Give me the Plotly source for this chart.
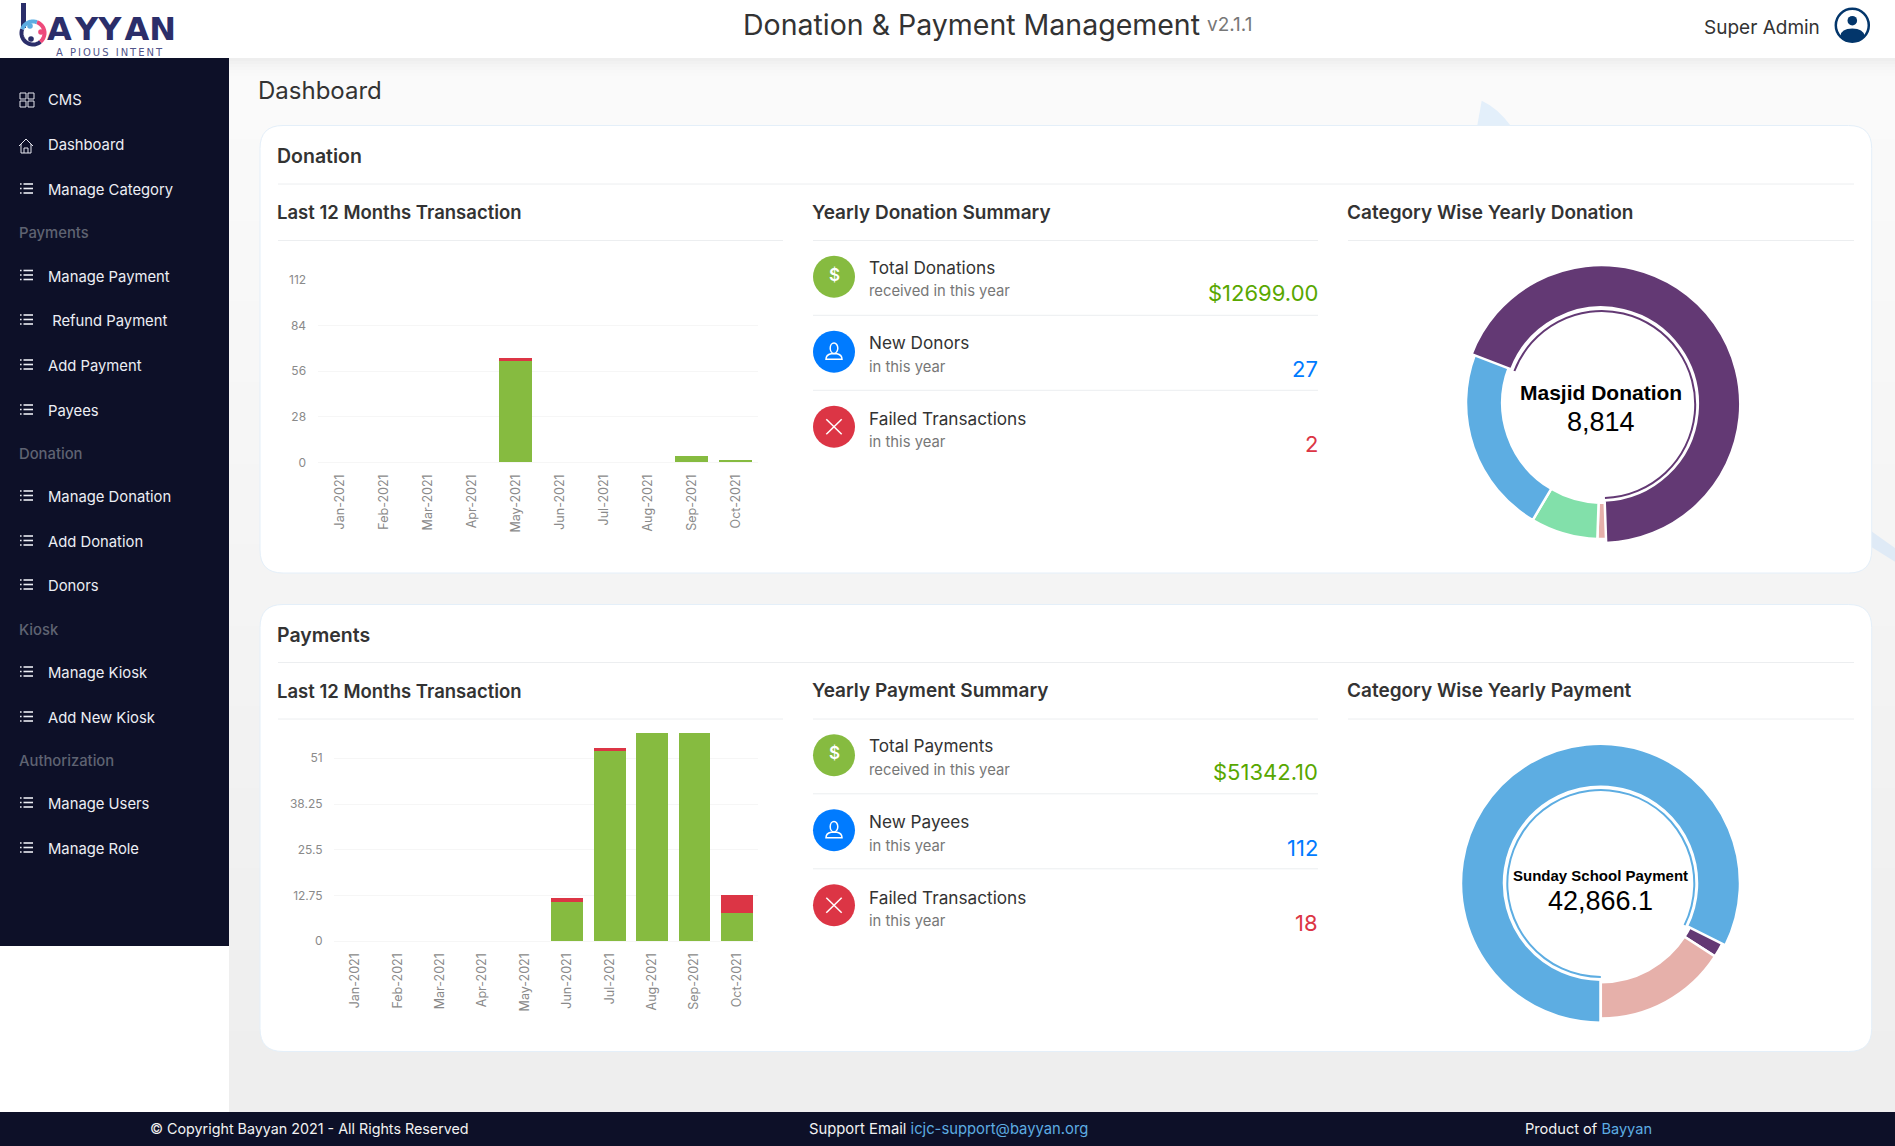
import math
import plotly.graph_objects as go

# ---------- data ----------
months = ["Jan-2021","Feb-2021","Mar-2021","Apr-2021","May-2021","Jun-2021","Jul-2021","Aug-2021","Sep-2021","Oct-2021"]
donation_success = [0,0,0,0,62,0,0,0,4,1.4]
donation_failed  = [0,0,0,0,2.3,0,0,0,0,0]
donation_ticks = [0,28,56,84,112]
payment_success = [0,0,0,0,0,11,53,59,59,8]
payment_failed  = [0,0,0,0,0,1,1,0,0,5]
payment_ticks = [0,12.75,25.5,38.25,51]
payment_tick_text = ["0","12.75","25.5","38.25","51"]

donation_labels = ["Masjid Donation","Category B","Category C","Category D"]
donation_values = [8814,141,1023,2868]
payment_labels = ["Sunday School Payment","Category B","Category C"]
payment_values = [42866.1,941,8254]

nav_items = [("CMS",101,"grid"),("Dashboard",146,"home"),("Manage Category",191,"list"),
             ("Payments",234,None),("Manage Payment",277.5,"list"),(" Refund Payment",322,"list"),
             ("Add Payment",367,"list"),("Payees",412,"list"),("Donation",455,None),
             ("Manage Donation",498,"list"),("Add Donation",543,"list"),("Donors",587,"list"),
             ("Kiosk",631,None),("Manage Kiosk",674,"list"),("Add New Kiosk",719,"list"),
             ("Authorization",762,None),("Manage Users",805,"list"),("Manage Role",850,"list")]

donation_rows = [("Total Donations","received in this year","$12699.00"),("New Donors","in this year","27"),("Failed Transactions","in this year","2")]
payment_rows = [("Total Payments","received in this year","$51342.10"),("New Payees","in this year","112"),("Failed Transactions","in this year","18")]

# ---------- style ----------
W, H = 1895, 1146
FONT = "Inter"
NAVY = "#0d1028"
GREEN = "#86bb40"
RED = "#dc3545"
BLUE = "#007bff"
PURPLE = "#633974"
SKY = "#5dade2"
MINT = "#82e0aa"
ROSE = "#e6b0aa"
INK = "#333333"
shapes, annos = [], []

def rect(x0,y0,x1,y1,fill,line=None,lw=0):
    shapes.append(dict(type="rect",xref="x",yref="y",x0=x0,y0=y0,x1=x1,y1=y1,fillcolor=fill,
                       line=dict(color=line or fill,width=lw),layer="below"))
def hline(x0,x1,y,color="#eceef0",lw=1):
    shapes.append(dict(type="line",xref="x",yref="y",x0=x0,x1=x1,y0=y,y1=y,line=dict(color=color,width=lw),layer="below"))
def seg(x0,y0,x1,y1,color="#ffffff",lw=1.5):
    shapes.append(dict(type="line",xref="x",yref="y",x0=x0,x1=x1,y0=y0,y1=y1,line=dict(color=color,width=lw),layer="below"))
def path(d,fill="rgba(0,0,0,0)",line="rgba(0,0,0,0)",lw=0):
    shapes.append(dict(type="path",xref="x",yref="y",path=d,fillcolor=fill,line=dict(color=line,width=lw),layer="below"))
def circle(cx,cy,r,fill="rgba(0,0,0,0)",line="rgba(0,0,0,0)",lw=0,ry=None):
    ry = ry or r
    shapes.append(dict(type="circle",xref="x",yref="y",x0=cx-r,x1=cx+r,y0=cy-ry,y1=cy+ry,fillcolor=fill,line=dict(color=line,width=lw),layer="below"))
def arc(cx,cy,r,a0,a1,color,lw):
    n=24
    pts=[(cx+r*math.cos(math.radians(a0+(a1-a0)*i/n)),cy+r*math.sin(math.radians(a0+(a1-a0)*i/n))) for i in range(n+1)]
    path("M"+" L".join(f"{x:.1f} {y:.1f}" for x,y in pts),line=color,lw=lw)
def rrect(x0,y0,x1,y1,r,fill,line):
    d=(f"M{x0+r} {y0} L{x1-r} {y0} Q{x1} {y0} {x1} {y0+r} L{x1} {y1-r} Q{x1} {y1} {x1-r} {y1} "
       f"L{x0+r} {y1} Q{x0} {y1} {x0} {y1-r} L{x0} {y0+r} Q{x0} {y0} {x0+r} {y0} Z")
    path(d,fill=fill,line=line,lw=1)
def txt(x,y,s,size,color=INK,anchor="left",weight=400,family=FONT):
    shift={"left":-3,"right":1.5,"center":0}[anchor]
    annos.append(dict(xref="x",yref="y",x=x+shift,y=y-0.8,text=s,showarrow=False,xanchor=anchor,yanchor="middle",
                      align=anchor,font=dict(family=family,size=size,color=color,weight=weight)))

# ---------- page ----------
rect(0,0,W,H,"#ffffff")
top,bot=58,1112
N=26
for i in range(N):
    v=round(250-(250-238)*i/(N-1))
    rect(229,top+(bot-top)*i/N,W,top+(bot-top)*(i+1)/N+1,f"rgb({v},{v},{v})")
for i,v in enumerate([238,241,244,246,248,249]):
    rect(229,58+i*3,W,58+(i+1)*3,f"rgb({v},{v},{v})")
rect(0,58,229,946,NAVY)
rect(0,1112,W,H,NAVY)
# decorative shapes peeking behind the cards
path("M1481.7 100.7 Q1498 108 1511.7 127 L1477 127 Z",fill="#e3effa")
path("M1871 531 L1895 548 L1895 561.7 L1871 546.7 Z",fill="#dfeaf6")
rrect(260,125.5,1871.7,573,23,"#ffffff","#e4eff9")
rrect(260,604.5,1871.7,1051.5,23,"#ffffff","#e4eff9")

# ---------- header ----------
txt(971,25,"Donation &amp; Payment Management",28.5,INK,"center")
txt(1208,25,"v2.1.1",19,"#777777")
txt(1705,28,"Super Admin",19,INK)
txt(259,91,"Dashboard",24,INK)
circle(1852.3,25.3,16.5,line="#03366b",lw=2.5)
circle(1852.3,20.7,4.8,fill="#03366b")
path("M1840.5 36 Q1841 28.5 1852.3 28.5 Q1863.5 28.5 1864.5 36 Q1859 41.3 1852.3 41.3 Q1845 41.3 1840.5 36 Z",fill="#03366b")
# logo
LOGO="#2b2e6a"
rect(21,3,26,28,LOGO)
arc(33,33,11.5,50,200,LOGO,4)
arc(33,33,11.5,-70,50,"#ee4a7b",4)
arc(33,33,11.5,200,290,SKY,4)
circle(30,26,2.8,fill=SKY)
circle(41,32,2.8,fill="#ee4a7b")
circle(31,39,2.8,fill=LOGO)
txt(48,29.5,"A\u200aYY\u200aAN",32,LOGO,weight=700,family="DejaVu Sans")
txt(57,53,"A\u2009 \u2009P\u2009I\u2009O\u2009U\u2009S\u2009 \u2009I\u2009N\u2009T\u2009E\u2009N\u2009T",10,"#50548a",family="DejaVu Sans")

# ---------- sidebar ----------
for label,y,icon in nav_items:
    if icon is None:
        txt(20,y,label,14.8,"#5f6372",weight=500)
        continue
    txt(49,y,label,14.8,"#eceef4")
    if icon=="grid":
        for dx in (0,8):
            for dy in (0,8):
                rect(20+dx,y-8+dy,26+dx,y-2+dy,"rgba(0,0,0,0)","#e6e6ee",1)
    elif icon=="home":
        path(f"M19 {y} L26 {y-7} L33 {y} M21 {y-2} L21 {y+7} L31 {y+7} L31 {y-2} M24 {y+7} L24 {y+2} L28 {y+2} L28 {y+7}",line="#e6e6ee",lw=1)
    else:
        for dy in (-7,-2.5,2):
            seg(23.5,y+dy,33,y+dy,"#eceef4",1.6)
            seg(20,y+dy,21.6,y+dy,"#eceef4",1.6)

# ---------- card contents ----------
def summary(offset,card,heading3,heading2,rows):
    txt(278,157+offset,card,19.5,INK,weight=600)
    hline(278,1854,184+offset)
    txt(278,213+offset,"Last 12 Months Transaction",18.5,INK,weight=600)
    hline(278,783,240.5+offset)
    txt(813,213+offset,heading2,19,INK,weight=600)
    hline(813,1318,240.5+offset)
    txt(1348,213+offset,heading3,19,INK,weight=600)
    hline(1348,1854,240.5+offset)
    tints=[("#86bb40","#58a700"),(BLUE,BLUE),(RED,RED)]
    ys=[(268,292,294,276.7),(343.3,368,370,351.7),(419.3,443,445,426.7)]
    for i,((a,b,c),(fill,vc),(ya,yb,yc,yi)) in enumerate(zip(rows,tints,ys)):
        circle(834,yi+offset,21,fill=fill)
        txt(870,ya+offset,a,17.2,INK)
        txt(870,yb+offset,b,14.8,"#777777")
        txt(1318,yc+offset,c,22,vc,"right",weight=400)
        cy=yi+offset
        if i==0:
            txt(834,cy-1,"$",17,"#ffffff","center",weight=600)
        elif i==1:
            circle(834,cy-3.5,3.8,line="#ffffff",lw=1.5,ry=5.2)
            path(f"M826 {cy+7.5} Q826 {cy+3} 831 {cy+2} L837 {cy+2} Q842 {cy+3} 842 {cy+7.5} Z",line="#ffffff",lw=1.5)
        else:
            seg(826.3,cy-7.5,841.7,cy+7.5,"#ffffff",1.5)
            seg(826.3,cy+7.5,841.7,cy-7.5,"#ffffff",1.5)
    hline(813,1318,315.3+offset)
    hline(813,1318,390.3+offset)

summary(0,"Donation","Category Wise Yearly Donation","Yearly Donation Summary",donation_rows)
summary(478.5,"Payments","Category Wise Yearly Payment","Yearly Payment Summary",payment_rows)

txt(1600.7,393.3,"Masjid Donation",21,"#000000","center",700,"Liberation Sans")
txt(1600.7,422.3,"8,814",27,"#000000","center",400,"Liberation Sans")
txt(1600.7,876,"Sunday School Payment",15,"#000000","center",700,"Liberation Sans")
txt(1600.7,901.7,"42,866.1",27,"#000000","center",400,"Liberation Sans")

# ---------- footer ----------
LINK="#5dade2"
txt(151,1130,"© Copyright Bayyan 2021 - All Rights Reserved",14.3,"#f2f2f2")
txt(810,1130,f'Support Email <span style="color:{LINK}">icjc-support@bayyan.org</span>',14.8,"#f2f2f2")
txt(1526,1130,f'Product of <span style="color:{LINK}">Bayyan</span>',14.6,"#f2f2f2")

# ---------- traces ----------
fig=go.Figure()
def bars(xa,ya,cats,good,bad):
    fig.add_bar(x=cats,y=good,marker=dict(color=GREEN,line=dict(width=0)),width=0.75,xaxis=xa,yaxis=ya,name="Success",showlegend=False)
    fig.add_bar(x=cats,y=bad,marker=dict(color=RED,line=dict(width=0)),width=0.75,xaxis=xa,yaxis=ya,name="Failed",showlegend=False)
bars("x2","y2",months,donation_success,donation_failed)
bars("x3","y3",months,payment_success,payment_failed)

def dom(cx,cy,r):
    return dict(x=[(cx-r)/W,(cx+r)/W],y=[1-(cy+r)/H,1-(cy-r)/H])
def donut(labels,values,colors,rot,c_ring,r_ring,c_big,r_big,c_thin,r_thin,hole_ring,inner_big):
    n=len(values)
    CLEAR="rgba(0,0,0,0)"
    ring_cols=[CLEAR]+colors[1:]
    fig.add_pie(labels=labels,values=values,sort=False,direction="clockwise",rotation=rot,hole=hole_ring,
                domain=dom(*c_ring,r_ring),textinfo="none",showlegend=False,
                marker=dict(colors=ring_cols,line=dict(color="#ffffff",width=[0]+[2.5]*(n-1))))
    fig.add_pie(labels=labels,values=values,sort=False,direction="clockwise",rotation=rot,hole=inner_big/r_big,
                domain=dom(*c_big,r_big),textinfo="none",showlegend=False,
                marker=dict(colors=[colors[0]]+[CLEAR]*(n-1),line=dict(color="#ffffff",width=[2.5]+[0]*(n-1))))
    fig.add_pie(labels=labels,values=values,sort=False,direction="clockwise",rotation=rot,hole=(r_thin-2)/r_thin,
                domain=dom(*c_thin,r_thin),textinfo="none",showlegend=False,
                marker=dict(colors=[colors[0]]+[CLEAR]*(n-1),line=dict(width=0)))
donut(donation_labels,donation_values,[PURPLE,ROSE,MINT,SKY],291,(1602,403),136,(1601.3,404),139,(1601.7,404.5),94.5,0.733,96.5)
donut(payment_labels,payment_values,[SKY,PURPLE,ROSE],180,(1600.8,882.5),136,(1600.5,883.2),139.5,(1600.8,883.5),94.5,0.733,96.5)

def xaxis(dom_x):
    return dict(domain=dom_x,type="category",categoryorder="array",categoryarray=months,tickangle=-90,
                ticks="outside",ticklen=6,tickcolor="rgba(0,0,0,0)",showgrid=False,zeroline=False,showline=False,
                automargin=False,tickfont=dict(family=FONT,size=12.5,color="#8a8a8a"),fixedrange=True)
def yaxis(y_top,y_bot,rng,vals,text):
    return dict(domain=[1-y_bot/H,1-y_top/H],range=rng,tickmode="array",tickvals=vals,ticktext=text,
                ticks="outside",ticklen=8,tickcolor="rgba(0,0,0,0)",showgrid=True,gridcolor="#f6f6f6",gridwidth=1,
                zeroline=True,zerolinecolor="#f6f6f6",showline=False,automargin=False,
                tickfont=dict(family=FONT,size=12,color="#8a8a8a"),fixedrange=True)

fig.update_layout(
    template="none",
    width=W,height=H,margin=dict(l=0,r=0,t=0,b=0),autosize=False,
    paper_bgcolor="#ffffff",plot_bgcolor="rgba(0,0,0,0)",barmode="stack",showlegend=False,bargap=0.25,
    shapes=shapes,annotations=annos,font=dict(family=FONT),
    xaxis=dict(domain=[0,1],range=[0,W],visible=False,fixedrange=True,automargin=False),
    yaxis=dict(domain=[0,1],range=[H,0],visible=False,fixedrange=True,automargin=False),
    xaxis2=dict(anchor="y2",**xaxis([317.5/W,757.5/W])),
    yaxis2=dict(anchor="x2",**yaxis(280,462.3,[0,112],donation_ticks,[str(t) for t in donation_ticks])),
    xaxis3=dict(anchor="y3",**xaxis([334/W,758/W])),
    yaxis3=dict(anchor="x3",**yaxis(733,941.2,[0,58.05],payment_ticks,payment_tick_text)),
)
fig.write_html("out.html",config=dict(displayModeBar=False),
               post_script="document.body.style.margin='0';document.documentElement.style.overflow='hidden';")
